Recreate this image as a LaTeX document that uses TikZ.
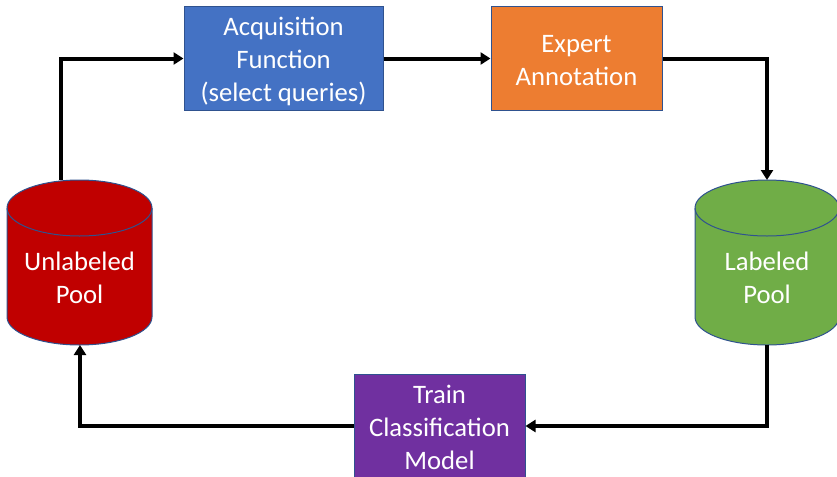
\documentclass[tikz,border=0pt]{standalone}
\usepackage{fontspec}
\setmainfont{Carlito}
\usetikzlibrary{arrows.meta}
\definecolor{cblue}{HTML}{4472C4}
\definecolor{corange}{HTML}{ED7D31}
\definecolor{cgreen}{HTML}{70AD47}
\definecolor{cred}{HTML}{C00000}
\definecolor{cpurple}{HTML}{7030A0}
\definecolor{cedge}{HTML}{2F528F}
\tikzset{
  box/.style={draw=cedge, line width=0.75pt, inner sep=0pt},
  lbl/.style={text=white, align=center, inner sep=0pt, font=\fontsize{20}{24.75}\selectfont},
  conn/.style={line width=3pt, -{Triangle[width=9pt,length=7.5pt]}},
  cyl/.style={draw=cedge, line width=0.75pt}
}
\begin{document}
\begin{tikzpicture}[x=0.75pt,y=0.75pt]
\useasboundingbox (0,0) rectangle (837,476);
\begin{scope}
\clip (0,0) rectangle (837,476);
% boxes
\node[box, fill=cblue, minimum width=199*0.75pt, minimum height=103*0.75pt] (acq) at (283.5,417.5) {};
\node[lbl] (acqtext) at (283.5,415) {Acquisition\\Function\\(select queries)};
\node[box, fill=corange, minimum width=171*0.75pt, minimum height=103*0.75pt] (exp) at (576.5,417.5) {};
\node[lbl] (exptext) at (576.5,415.5) {Expert\\Annotation};
\node[box, fill=cpurple, minimum width=171*0.75pt, minimum height=104*0.75pt] (train) at (439.5,50) {};
\node[lbl] (traintext) at (439.5,49) {Train\\Classification\\Model};
% unlabeled cylinder
\filldraw[cyl, fill=cred] (7,268) -- (7,159) arc[start angle=180, end angle=360, x radius=72.5, y radius=28] -- (152,268) arc[start angle=0, end angle=180, x radius=72.5, y radius=28] -- cycle;
\draw[cyl] (7,268) arc[start angle=180, end angle=360, x radius=72.5, y radius=28];
\node[lbl] (unl) at (79.5,198) {Unlabeled\\Pool};
% labeled cylinder
\filldraw[cyl, fill=cgreen] (695,268) -- (695,159) arc[start angle=180, end angle=360, x radius=72, y radius=28] -- (839,268) arc[start angle=0, end angle=180, x radius=72, y radius=28] -- cycle;
\draw[cyl] (695,268) arc[start angle=180, end angle=360, x radius=72, y radius=28];
\node[lbl] (lab) at (767,198) {Labeled\\Pool};
% connector end points on cylinders
\coordinate (unltop) at (61,296);
\coordinate (unlbot) at (80,131);
\coordinate (labtop) at (767,296);
\coordinate (labbot) at (767,131);
% connectors
\draw[conn] (unltop) |- (acq.west);
\draw[conn] (acq.east) -- (exp.west);
\draw[conn] (exp.east) -| (labtop);
\draw[conn] (labbot) |- (train.east);
\draw[conn] (train.west) -| (unlbot);
\end{scope}
\end{tikzpicture}
\end{document}
